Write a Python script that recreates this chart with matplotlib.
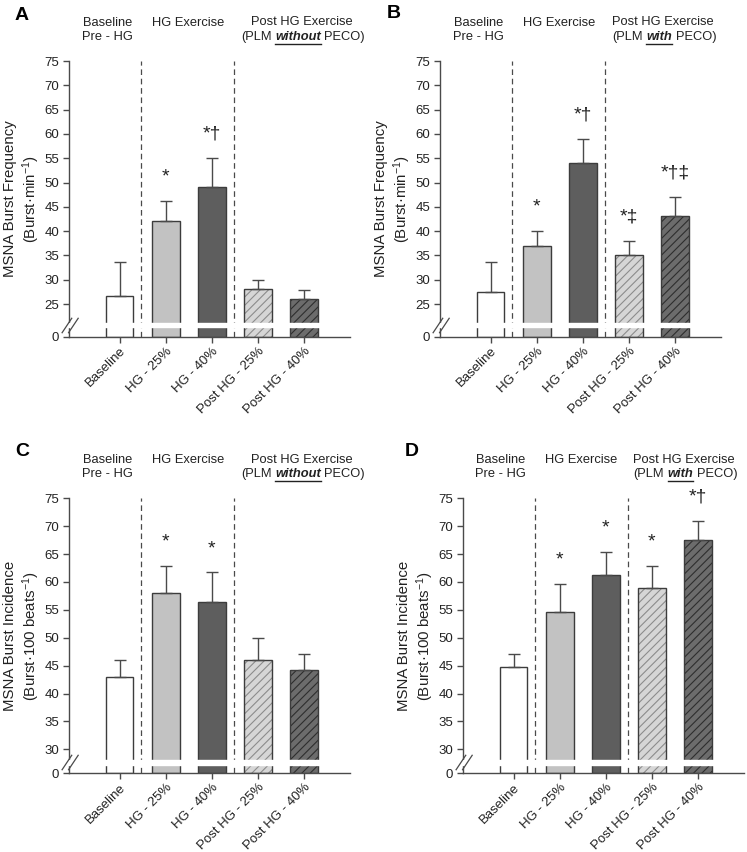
import numpy as np
import matplotlib.pyplot as plt
from matplotlib import transforms
from matplotlib.path import Path

plt.rcParams['font.family'] = ['Liberation Sans', 'DejaVu Sans']
plt.rcParams['mathtext.fontset'] = 'custom'
plt.rcParams['mathtext.rm'] = 'Liberation Sans'
plt.rcParams['mathtext.default'] = 'regular'
plt.rcParams['hatch.linewidth'] = 0.8

categories = ['Baseline', 'HG - 25%', 'HG - 40%', 'Post HG - 25%', 'Post HG - 40%']

# panel A: burst frequency, PLM without PECO
freq_without = [26.6, 42.0, 49.1, 28.1, 26.0]
freq_without_err = [7.0, 4.2, 5.9, 1.8, 2.0]
freq_without_sig = ['', '*', '*†', '', '']

# panel B: burst frequency, PLM with PECO
freq_with = [27.5, 37.0, 54.1, 35.1, 43.1]
freq_with_err = [6.1, 3.0, 4.9, 2.8, 3.9]
freq_with_sig = ['', '*', '*†', '*‡', '*†‡']

# panel C: burst incidence, PLM without PECO
inc_without = [43.0, 58.0, 56.4, 46.1, 44.2]
inc_without_err = [3.0, 4.8, 5.3, 3.9, 2.8]
inc_without_sig = ['', '*', '*', '', '']

# panel D: burst incidence, PLM with PECO
inc_with = [44.7, 54.7, 61.3, 59.0, 67.5]
inc_with_err = [2.3, 5.0, 4.1, 3.9, 3.5]
inc_with_sig = ['', '*', '*', '*', '*†']

freq_ticks = [0, 25, 30, 35, 40, 45, 50, 55, 60, 65, 70, 75]
inc_ticks = [0, 30, 35, 40, 45, 50, 55, 60, 65, 70, 75]

faces = ['white', '#c2c2c2', '#5e5e5e', '#d6d6d6', '#6c6c6c']
hatch_cols = [None, None, None, '#8c8c8c', '#2e2e2e']
edge = '#3c3c3c'
txt = '#222222'

W, H = 747, 852
fig = plt.figure(figsize=(W / 100, H / 100), dpi=100)
renderer = fig.canvas.get_renderer()


def broken_scale(zero_pos, lin_start):
    k = (lin_start - zero_pos) / lin_start

    def forward(v):
        v = np.asarray(v, dtype=float)
        return np.where(v >= lin_start, v, zero_pos + v * k)

    def inverse(f):
        f = np.asarray(f, dtype=float)
        return np.where(f >= lin_start, f, (f - zero_pos) / k)
    return forward, inverse


def text_width(s, **kw):
    t = fig.text(0, 0, s, **kw)
    w = t.get_window_extent(renderer).width
    t.remove()
    return w


def header_mixed(ax, x, y, word, fs):
    cx, cy = ax.get_xaxis_transform().transform((x, y))
    w1 = text_width('(PLM', fontsize=fs)
    w2 = text_width(word, fontsize=fs, weight='bold', style='italic')
    w3 = text_width('PECO)', fontsize=fs)
    sp = text_width('a a', fontsize=fs) - text_width('aa', fontsize=fs)
    total = w1 + w2 + w3 + 2 * sp
    x0 = cx - total / 2
    ident = transforms.IdentityTransform()
    fig.text(x0, cy, '(PLM', fontsize=fs, color=txt, va='center', transform=ident)
    xw = x0 + w1 + sp
    fig.text(xw, cy, word, fontsize=fs, color=txt, va='center',
             weight='bold', style='italic', transform=ident)
    fig.text(xw + w2 + sp, cy, 'PECO)', fontsize=fs, color=txt, va='center', transform=ident)
    uy = cy - 7
    fig.add_artist(plt.Line2D([xw, xw + w2], [uy, uy], color=txt, lw=1.0, transform=ident))


def draw_panel(ax, values, errs, sigs, ylabel, ticks, zero_pos, lin_start, band,
               word, hdr_x, post_x):
    x = np.arange(len(categories))
    fwd, inv = broken_scale(zero_pos, lin_start)
    ax.set_yscale('function', functions=(fwd, inv))

    for i in range(len(categories)):
        if hatch_cols[i] is None:
            ax.bar(x[i], values[i], width=0.6, color=faces[i], edgecolor=edge,
                   linewidth=1.0, zorder=1)
        else:
            ax.bar(x[i], values[i], width=0.6, color=faces[i], edgecolor=hatch_cols[i],
                   hatch='////', linewidth=0, zorder=1)
            ax.bar(x[i], values[i], width=0.6, fill=False, edgecolor=edge,
                   linewidth=1.0, zorder=1.1)

    ax.errorbar(x, values, yerr=[np.zeros(len(errs)), errs], fmt='none',
                ecolor='#4a4a4a', elinewidth=1.0, capsize=4.3, capthick=1.0, zorder=3)

    for xv in (0.47, 2.49):
        ax.axvline(xv, color='#4a4a4a', lw=0.9, dashes=(4.5, 3), zorder=2)

    # axis break band and marks
    ax.axhspan(band[0], band[1], xmin=-0.01, xmax=1, color='white', zorder=2.6,
               clip_on=False)
    mark = Path([(-6, -6), (2, 6), (-1, -6), (7, 6)],
                [Path.MOVETO, Path.LINETO, Path.MOVETO, Path.LINETO])
    ax.plot([0], [np.mean(band)], marker=mark, markersize=13, color='#4a4a4a',
            mew=0.9, transform=ax.get_yaxis_transform(), clip_on=False, zorder=3)

    for i, s in enumerate(sigs):
        if s:
            ax.annotate(s, (x[i], values[i] + errs[i]), xytext=(0, 14),
                        textcoords='offset points', ha='center', va='baseline',
                        fontsize=14, color=txt)

    ax.set_xlim(-1.1, 5.0)
    ax.set_ylim(0, 75)
    ax.set_yticks(ticks)
    ax.set_yticklabels([str(t) for t in ticks])
    ax.set_xticks(x)
    ax.set_xticklabels(categories, rotation=45, ha='right', va='top',
                       rotation_mode='anchor')
    for lbl in ax.get_xticklabels():
        lbl.set_transform(lbl.get_transform() +
                          transforms.ScaledTranslation(4 / 100, 2 / 100, fig.dpi_scale_trans))
    ax.tick_params(axis='both', direction='out', length=4, width=1.0,
                   color='#4a4a4a', labelsize=9.5, labelcolor=txt)
    ax.tick_params(axis='y', pad=3)
    ax.tick_params(axis='x', pad=2)
    for side in ('top', 'right'):
        ax.spines[side].set_visible(False)
    for side in ('left', 'bottom'):
        ax.spines[side].set_color('#4a4a4a')
        ax.spines[side].set_linewidth(1.0)

    ax.set_ylabel(ylabel, fontsize=10.8, color=txt, linespacing=1.2)
    ax.yaxis.set_label_coords(-0.097, 0.5)

    tr = ax.get_xaxis_transform()
    r1, r2 = 1 + 38 / 276, 1 + 24 / 276
    ax.text(hdr_x[0], r1, 'Baseline', transform=tr, ha='center', va='center',
            fontsize=9.3, color=txt)
    ax.text(hdr_x[0], r2, 'Pre - HG', transform=tr, ha='center', va='center',
            fontsize=9.3, color=txt)
    ax.text(hdr_x[1], r1, 'HG Exercise', transform=tr, ha='center', va='center',
            fontsize=9.3, color=txt)
    ax.text(post_x, r1 + 0.003, 'Post HG Exercise', transform=tr, ha='center',
            va='center', fontsize=9.3, color=txt)
    header_mixed(ax, post_x + 0.03, r2, word, 9.3)


freq_label = 'MSNA Burst Frequency\n(Burst·min$^{-1}$)'
inc_label = 'MSNA Burst Incidence\n(Burst·100 beats$^{-1}$)'

axA = fig.add_axes([69 / W, (H - 336.7) / H, 281 / W, 275.7 / H])
axB = fig.add_axes([440 / W, (H - 336.7) / H, 281 / W, 275.7 / H])
axC = fig.add_axes([69 / W, (H - 773.3) / H, 281 / W, 275 / H])
axD = fig.add_axes([463 / W, (H - 773.3) / H, 281 / W, 275 / H])

draw_panel(axA, freq_without, freq_without_err, freq_without_sig, freq_label,
           freq_ticks, 18.3, 22, (11.5, 17.1), 'without', (-0.27, 1.49), 3.95)
draw_panel(axB, freq_with, freq_with_err, freq_with_sig, freq_label,
           freq_ticks, 18.3, 22, (11.5, 17.1), 'with', (-0.26, 1.49), 3.74)
draw_panel(axC, inc_without, inc_without_err, inc_without_sig, inc_label,
           inc_ticks, 25.7, 29, (13.2, 21.1), 'without', (-0.27, 1.49), 3.95)
draw_panel(axD, inc_with, inc_with_err, inc_with_sig, inc_label,
           inc_ticks, 25.7, 29, (13.2, 21.1), 'with', (-0.28, 1.46), 3.70)

for letter, px, py in [('A', 22, 15), ('B', 394, 14), ('C', 22, 452), ('D', 412, 452)]:
    fig.text(px / W, 1 - py / H, letter, fontsize=14, weight='bold', ha='center',
             va='center', color='black')

fig.savefig('out.png', dpi=100)
